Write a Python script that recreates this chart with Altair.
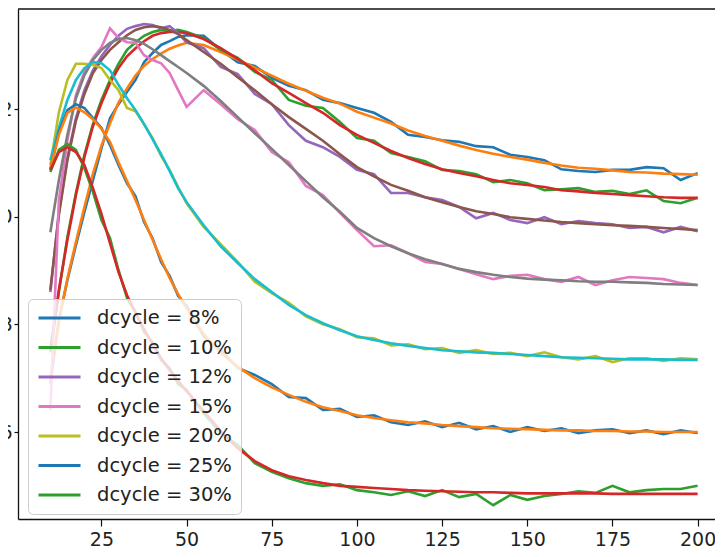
import altair as alt
import pandas as pd

X = [10, 12.5, 15, 17.5, 20, 22.5, 25, 27.5, 30, 32.5, 35, 37.5, 40, 42.5, 45, 47.5, 50,
     55, 60, 65, 70, 75, 80, 85, 90, 95, 100, 105, 110, 115, 120, 125, 130, 135, 140,
     145, 150, 155, 160, 165, 170, 175, 180, 185, 190, 195, 200]

LABELS = ["dcycle = 8%", "dcycle = 10%", "dcycle = 12%", "dcycle = 15%",
          "dcycle = 20%", "dcycle = 25%", "dcycle = 30%"]

DATA_8 = [0.690, 0.808, 0.882, 0.947, 1.009, 1.068, 1.127, 1.183, 1.209, 1.232,
          1.254, 1.287, 1.304, 1.319, 1.326, 1.334, 1.337, 1.336, 1.310, 1.287,
          1.280, 1.258, 1.243, 1.235, 1.217, 1.211, 1.202, 1.193, 1.176, 1.152,
          1.148, 1.142, 1.139, 1.131, 1.129, 1.115, 1.111, 1.105, 1.088, 1.085,
          1.083, 1.087, 1.087, 1.092, 1.090, 1.068, 1.081]
FIT_8 = [0.700, 0.805, 0.885, 0.953, 1.018, 1.080, 1.132, 1.173, 1.212, 1.238,
         1.262, 1.280, 1.293, 1.303, 1.312, 1.318, 1.323, 1.319, 1.306, 1.292,
         1.277, 1.262, 1.247, 1.234, 1.221, 1.210, 1.195, 1.184, 1.173, 1.160,
         1.150, 1.141, 1.132, 1.124, 1.117, 1.111, 1.106, 1.100, 1.095, 1.091,
         1.089, 1.086, 1.083, 1.082, 1.080, 1.079, 1.078]

DATA_10 = [0.748, 0.860, 0.962, 1.044, 1.115, 1.172, 1.217, 1.254, 1.284, 1.310,
           1.324, 1.336, 1.343, 1.347, 1.345, 1.347, 1.343, 1.332, 1.310, 1.295,
           1.269, 1.254, 1.217, 1.206, 1.202, 1.176, 1.146, 1.141, 1.118, 1.111,
           1.103, 1.087, 1.085, 1.079, 1.064, 1.068, 1.062, 1.049, 1.051, 1.053,
           1.046, 1.048, 1.042, 1.049, 1.029, 1.025, 1.035]
FIT_10 = [0.752, 0.864, 0.957, 1.040, 1.111, 1.168, 1.211, 1.248, 1.276, 1.298,
          1.313, 1.326, 1.336, 1.341, 1.343, 1.343, 1.341, 1.330, 1.313, 1.293,
          1.272, 1.248, 1.230, 1.211, 1.193, 1.170, 1.152, 1.137, 1.122, 1.109,
          1.098, 1.088, 1.081, 1.075, 1.068, 1.062, 1.059, 1.055, 1.049, 1.047,
          1.044, 1.042, 1.040, 1.038, 1.036, 1.035, 1.035]

DATA_12 = [0.860, 1.009, 1.109, 1.183, 1.235, 1.272, 1.298, 1.319, 1.336, 1.349,
           1.354, 1.358, 1.356, 1.350, 1.354, 1.341, 1.324, 1.313, 1.278, 1.265,
           1.228, 1.209, 1.170, 1.141, 1.129, 1.111, 1.087, 1.079, 1.044, 1.044,
           1.036, 1.031, 1.018, 0.997, 1.007, 0.994, 0.988, 0.999, 0.986, 0.992,
           0.988, 0.986, 0.979, 0.981, 0.971, 0.981, 0.973]
FIT_12 = [0.864, 1.003, 1.105, 1.178, 1.228, 1.267, 1.291, 1.310, 1.324, 1.337,
          1.347, 1.352, 1.354, 1.352, 1.347, 1.339, 1.328, 1.306, 1.284, 1.259,
          1.235, 1.209, 1.185, 1.163, 1.141, 1.116, 1.092, 1.075, 1.059, 1.048,
          1.036, 1.027, 1.018, 1.010, 1.005, 0.999, 0.996, 0.993, 0.990, 0.988,
          0.986, 0.984, 0.983, 0.981, 0.979, 0.977, 0.975]

DATA_15 = [0.641, 1.031, 1.142, 1.226, 1.269, 1.295, 1.315, 1.350, 1.332, 1.324,
           1.323, 1.300, 1.291, 1.285, 1.267, 1.235, 1.204, 1.235, 1.209, 1.181,
           1.161, 1.120, 1.101, 1.057, 1.040, 1.007, 0.975, 0.945, 0.947, 0.932,
           0.916, 0.912, 0.903, 0.893, 0.884, 0.890, 0.892, 0.884, 0.879, 0.888,
           0.873, 0.882, 0.888, 0.886, 0.884, 0.877, 0.873]
FIT_15 = [0.971, 1.068, 1.152, 1.220, 1.263, 1.291, 1.310, 1.323, 1.330, 1.332,
          1.328, 1.321, 1.311, 1.300, 1.289, 1.278, 1.267, 1.243, 1.215, 1.185,
          1.155, 1.126, 1.096, 1.066, 1.036, 1.009, 0.979, 0.960, 0.945, 0.932,
          0.921, 0.912, 0.903, 0.897, 0.892, 0.888, 0.885, 0.883, 0.882, 0.880,
          0.879, 0.879, 0.878, 0.877, 0.875, 0.874, 0.873]

DATA_20 = [1.096, 1.194, 1.254, 1.284, 1.284, 1.282, 1.276, 1.254, 1.235, 1.202,
           1.196, 1.172, 1.146, 1.113, 1.087, 1.055, 1.025, 0.981, 0.949, 0.916,
           0.879, 0.858, 0.840, 0.815, 0.800, 0.791, 0.776, 0.774, 0.761, 0.763,
           0.754, 0.756, 0.747, 0.752, 0.745, 0.747, 0.741, 0.748, 0.739, 0.735,
           0.741, 0.730, 0.737, 0.737, 0.732, 0.737, 0.735]
FIT_20 = [1.105, 1.165, 1.217, 1.254, 1.276, 1.287, 1.285, 1.272, 1.245, 1.220,
          1.198, 1.172, 1.144, 1.116, 1.085, 1.053, 1.027, 0.984, 0.945, 0.914,
          0.884, 0.860, 0.836, 0.817, 0.802, 0.789, 0.778, 0.771, 0.765, 0.760,
          0.756, 0.752, 0.750, 0.748, 0.747, 0.745, 0.743, 0.741, 0.739, 0.738,
          0.737, 0.736, 0.735, 0.735, 0.735, 0.734, 0.734]

DATA_25 = [1.087, 1.157, 1.198, 1.209, 1.202, 1.183, 1.165, 1.133, 1.096, 1.062,
           1.038, 0.990, 0.960, 0.916, 0.890, 0.853, 0.834, 0.778, 0.752, 0.719,
           0.706, 0.689, 0.665, 0.663, 0.641, 0.643, 0.628, 0.631, 0.618, 0.613,
           0.620, 0.609, 0.617, 0.605, 0.611, 0.600, 0.609, 0.602, 0.607, 0.598,
           0.603, 0.605, 0.598, 0.603, 0.596, 0.603, 0.598]
FIT_25 = [1.090, 1.152, 1.193, 1.203, 1.194, 1.181, 1.163, 1.139, 1.101, 1.066,
          1.031, 0.994, 0.957, 0.921, 0.886, 0.856, 0.830, 0.782, 0.747, 0.721,
          0.700, 0.683, 0.669, 0.656, 0.646, 0.639, 0.631, 0.626, 0.622, 0.618,
          0.616, 0.613, 0.611, 0.609, 0.607, 0.606, 0.605, 0.604, 0.603, 0.603,
          0.602, 0.602, 0.601, 0.601, 0.600, 0.600, 0.600]

DATA_30 = [1.083, 1.124, 1.135, 1.124, 1.090, 1.046, 0.994, 0.960, 0.901, 0.849,
           0.823, 0.786, 0.767, 0.734, 0.719, 0.689, 0.678, 0.635, 0.598, 0.576,
           0.542, 0.526, 0.514, 0.505, 0.500, 0.503, 0.492, 0.488, 0.483, 0.490,
           0.481, 0.492, 0.479, 0.485, 0.464, 0.483, 0.474, 0.481, 0.485, 0.490,
           0.487, 0.500, 0.488, 0.492, 0.494, 0.494, 0.500]
FIT_30 = [1.087, 1.120, 1.129, 1.120, 1.096, 1.053, 1.005, 0.951, 0.897, 0.854,
          0.821, 0.791, 0.763, 0.737, 0.715, 0.695, 0.676, 0.639, 0.602, 0.570,
          0.546, 0.529, 0.518, 0.511, 0.505, 0.500, 0.498, 0.496, 0.494, 0.492,
          0.491, 0.490, 0.489, 0.488, 0.488, 0.487, 0.486, 0.486, 0.486, 0.486,
          0.486, 0.485, 0.485, 0.485, 0.485, 0.485, 0.485]

DATA_COLORS = ["#1f77b4", "#2ca02c", "#9467bd", "#e377c2", "#bcbd22", "#1f77b4", "#2ca02c"]
FIT_COLORS = ["#ff7f0e", "#d62728", "#8c564b", "#7f7f7f", "#17becf", "#ff7f0e", "#d62728"]

X_TICKS = [25, 50, 75, 100, 125, 150, 175, 200]
Y_TICKS = [0.6, 0.8, 1.0, 1.2]

SERIES = [
    (LABELS[0], DATA_8, FIT_8),
    (LABELS[1], DATA_10, FIT_10),
    (LABELS[2], DATA_12, FIT_12),
    (LABELS[3], DATA_15, FIT_15),
    (LABELS[4], DATA_20, FIT_20),
    (LABELS[5], DATA_25, FIT_25),
    (LABELS[6], DATA_30, FIT_30),
]

rows, keys, colors = [], [], []
for i, (lab, dvals, fvals) in enumerate(SERIES):
    for kind, vals, col in (("a", dvals, DATA_COLORS[i]), ("b", fvals, FIT_COLORS[i])):
        key = f"{i}{kind}|{lab}"
        keys.append(key)
        colors.append(col)
        for xv, yv in zip(X, vals):
            rows.append({"x": xv, "y": yv, "key": key})
df = pd.DataFrame(rows)
legend_keys = [k for k in keys if k[1] == "a"]

FONT = "DejaVu Sans"
W, H = 697, 510

lines = alt.Chart(df).mark_line(strokeWidth=2.6, clip=True).encode(
    x=alt.X("x:Q",
            scale=alt.Scale(domain=[0.5, 205.1], nice=False, zero=False),
            axis=alt.Axis(values=X_TICKS, format="d", title=None, grid=False,
                          domain=True, domainColor="#111", domainWidth=1.3,
                          tickSize=7, tickWidth=1.2, tickColor="#111",
                          labelFont=FONT, labelFontSize=19, labelColor="#222",
                          labelPadding=4, labelFlush=False, labelOverlap=False)),
    y=alt.Y("y:Q",
            scale=alt.Scale(domain=[0.4384, 1.3858], nice=False, zero=False),
            axis=alt.Axis(values=Y_TICKS, format=".1f", title=None, grid=False,
                          domain=True, domainColor="#111", domainWidth=1.3,
                          tickSize=4, tickWidth=1.2, tickColor="#111",
                          labelFont=FONT, labelFontSize=19, labelColor="#222",
                          labelPadding=2, labelOverlap=False)),
    color=alt.Color("key:N",
                    scale=alt.Scale(domain=keys, range=colors),
                    legend=alt.Legend(values=legend_keys, title=None,
                                      labelExpr="slice(datum.label, indexof(datum.label, '|') + 1)",
                                      orient="none", legendX=10, legendY=290,
                                      symbolType="stroke", symbolSize=1764, symbolStrokeWidth=2.8,
                                      clipHeight=20,
                                      labelFont=FONT, labelFontSize=19.5, labelColor="#222",
                                      labelOffset=15, rowPadding=9.5, padding=9,
                                      fillColor="rgba(255,255,255,0.8)", strokeColor="#cccccc",
                                      cornerRadius=5)),
)

top_spine = alt.Chart(pd.DataFrame({"s": [0]})).mark_rule(color="#111", strokeWidth=1.3).encode(
    x=alt.value(0), x2=alt.value(W), y=alt.value(0)
)

chart = alt.layer(lines, top_spine).properties(
    width=W, height=H,
    padding={"left": 10, "top": 1, "right": 0, "bottom": 28},
    autosize=alt.AutoSizeParams(type="none"),
).configure_view(stroke=None)

chart.save("out.html", embed_options={"renderer": "svg", "actions": False})
